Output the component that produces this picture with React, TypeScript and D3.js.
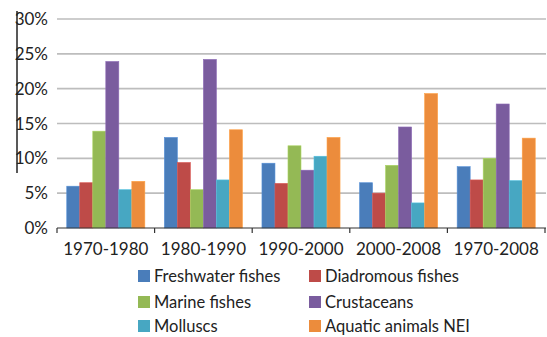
import React from "react";
import * as d3 from "d3";

const categories = ["1970-1980", "1980-1990", "1990-2000", "2000-2008", "1970-2008"];
const seriesNames = [
  "Freshwater fishes",
  "Diadromous fishes",
  "Marine fishes",
  "Crustaceans",
  "Molluscs",
  "Aquatic animals NEI",
];
const freshwater = [6.0, 13.0, 9.3, 6.5, 8.8];
const diadromous = [6.5, 9.4, 6.4, 5.0, 6.9];
const marine = [13.9, 5.5, 11.8, 9.0, 10.0];
const crustaceans = [23.9, 24.2, 8.3, 14.5, 17.8];
const molluscs = [5.5, 6.9, 10.3, 3.6, 6.8];
const aquatic = [6.7, 14.1, 13.0, 19.3, 12.9];
const seriesValues = [freshwater, diadromous, marine, crustaceans, molluscs, aquatic];
const colors = ["#4A7DBA", "#BE4B48", "#94B955", "#7A5C9E", "#47A7C2", "#EC8C3C"];
const yTicks = [0, 5, 10, 15, 20, 25, 30];

const W = 547;
const H = 337;
const FONT = "Lato, 'Open Sans', sans-serif";

export default function App() {
  const x0 = d3.scaleBand<string>().domain(categories).range([57, 545]).paddingInner(0).paddingOuter(0);
  const bw = x0.bandwidth();
  const x1 = d3
    .scaleBand<number>()
    .domain(d3.range(seriesNames.length))
    .range([bw * 0.1, bw * 0.9])
    .padding(0);
  const y = d3.scaleLinear().domain([0, 30]).range([228, 19]);

  const legendCols = [138, 309];
  const legendRows = [276, 302, 326];

  return (
    <svg
      width={W}
      height={H}
      style={{ position: "absolute", left: 0, top: 0, background: "#fff" }}
      fontFamily={FONT}
    >
      {/* gridlines */}
      {yTicks.slice(1).map((t) => (
        <line key={t} x1={57} x2={546} y1={y(t)} y2={y(t)} stroke="#bdbdbd" strokeWidth={1.6} />
      ))}
      {/* y labels */}
      {yTicks.map((t) => (
        <text key={t} x={48} y={y(t)} dy="0.36em" textAnchor="end" fontSize={17} fill="#222">
          {t}%
        </text>
      ))}
      {/* left crop artifact line */}
      <line x1={17} x2={17} y1={11} y2={173} stroke="#222" strokeWidth={1.5} />
      {/* bars */}
      {categories.map((c, ci) => (
        <g key={c} transform={`translate(${x0(c)},0)`}>
          {seriesValues.map((vals, si) => (
            <rect
              key={si}
              x={x1(si)!}
              y={y(vals[ci])}
              width={x1.bandwidth()}
              height={y(0) - y(vals[ci])}
              fill={colors[si]}
              stroke={d3.color(colors[si])!.brighter(0.4).formatHex()}
              strokeWidth={0.6}
            />
          ))}
        </g>
      ))}
      {/* x axis */}
      <line x1={57} x2={546} y1={228} y2={228} stroke="#333" strokeWidth={1.2} />
      {[...categories.map((c) => x0(c)!), 545].map((tx, i) => (
        <line key={i} x1={tx} x2={tx} y1={228} y2={233} stroke="#333" strokeWidth={1.2} />
      ))}
      {categories.map((c) => (
        <text
          key={c}
          x={x0(c)! + bw / 2}
          y={255}
          textAnchor="middle"
          fontSize={17}
          fill="#222"
        >
          {c}
        </text>
      ))}
      {/* legend */}
      {seriesNames.map((n, i) => {
        const lx = legendCols[i % 2];
        const ly = legendRows[Math.floor(i / 2)];
        return (
          <g key={n}>
            <rect x={lx} y={ly - 6} width={12} height={12} fill={colors[i]} />
            <text x={lx + 16} y={ly} dy="0.36em" fontSize={16.5} fill="#222">
              {n}
            </text>
          </g>
        );
      })}
    </svg>
  );
}
